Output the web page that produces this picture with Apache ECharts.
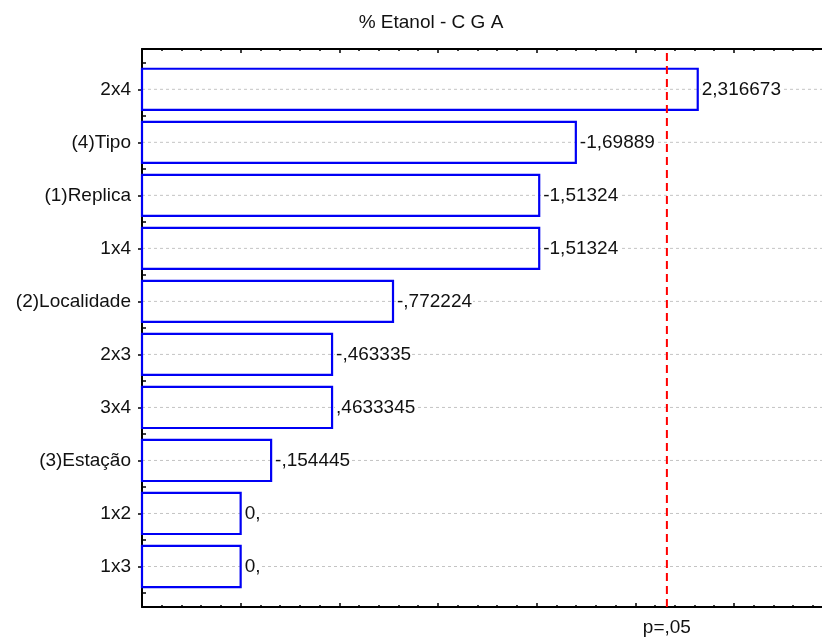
<!DOCTYPE html>
<html>
<head>
<meta charset="utf-8">
<script src="https://cdn.jsdelivr.net/npm/echarts@6/dist/echarts.min.js"></script>
<style>
  html, body { margin: 0; padding: 0; background: #fff; }
  #chart { width: 822px; height: 637px; }
</style>
</head>
<body>
<div id="chart"></div>
<script>
// Pareto chart of standardized effects
const categories = ['2x4', '(4)Tipo', '(1)Replica', '1x4', '(2)Localidade', '2x3', '3x4', '(3)Estação', '1x2', '1x3'];
const effects = [2.316673, -1.69889, -1.51324, -1.51324, -0.772224, -0.463335, 0.4633345, -0.154445, 0, 0];
const tCritical = 2.160369;
const pLevelLabel = 'p=,05';
const titleText = '% Etanol - C G A';

const X_MIN = -0.5, X_MAX = 3, X_STEP = 0.5;
const FONT = 'Liberation Sans';

// Statistica-style number text: decimal comma, no leading zero
function fmt(v) {
  if (v === 0) return '0,';
  return String(v).replace('.', ',').replace(/^(-?)0,/, '$1,');
}

const barData = categories.map((c, i) => [i, Math.abs(effects[i]), effects[i]]);

const chart = echarts.init(document.getElementById('chart'), null, { renderer: 'canvas' });

const plotLeft = 142;
const plotWidth = (X_MAX - X_MIN) * 197.3;

const xAxisCommon = {
  type: 'value', min: X_MIN, max: X_MAX, interval: X_STEP,
  axisLabel: { show: false },
  splitLine: { show: false }
};

chart.setOption({
  animation: false,
  backgroundColor: '#fff',
  title: {
    text: titleText,
    left: 426, top: 8, textAlign: 'center',
    textStyle: { fontFamily: FONT, fontSize: 19, fontWeight: 'normal', color: '#111' }
  },
  grid: [
    { left: plotLeft, width: plotWidth, top: 49, height: 558, outerBoundsMode: 'none' },
    { left: plotLeft, width: plotWidth, top: 62.8, height: 530.2, outerBoundsMode: 'none' }
  ],
  xAxis: [
    Object.assign({}, xAxisCommon, {
      gridIndex: 0, position: 'bottom',
      axisLine: { show: true, onZero: false, lineStyle: { color: '#000', width: 2 } },
      axisTick: { show: true, inside: true, length: 4, lineStyle: { color: '#000', width: 1.5 } },
      minorTick: { show: true, splitNumber: 5, length: 2, lineStyle: { color: '#000', width: 1.5 } }
    }),
    Object.assign({}, xAxisCommon, {
      gridIndex: 0, position: 'top',
      axisLine: { show: true, onZero: false, lineStyle: { color: '#000', width: 2 } },
      axisTick: { show: true, inside: true, length: 4, lineStyle: { color: '#000', width: 1.5 } },
      minorTick: { show: true, splitNumber: 5, length: 2, lineStyle: { color: '#000', width: 1.5 } }
    }),
    Object.assign({}, xAxisCommon, { gridIndex: 1, show: false, axisLine: { onZero: false } })
  ],
  yAxis: [
    {
      type: 'value', gridIndex: 0, min: 0, max: 1, position: 'left',
      axisLine: { show: true, onZero: false, lineStyle: { color: '#000', width: 2 } },
      axisTick: { show: false }, axisLabel: { show: false }, splitLine: { show: false }
    },
    {
      type: 'category', gridIndex: 1, data: categories, inverse: true, position: 'left',
      axisLine: { show: false, onZero: false },
      axisTick: { show: true, alignWithLabel: true, length: 4, lineStyle: { color: '#000', width: 1.5 } },
      axisLabel: { fontFamily: FONT, fontSize: 19, color: '#111', margin: 11 },
      splitLine: { show: false }
    },
    {
      type: 'category', gridIndex: 1, data: categories, inverse: true, position: 'left',
      axisLine: { show: false, onZero: false },
      axisTick: { show: true, inside: true, length: 4, lineStyle: { color: '#000', width: 1.5 } },
      axisLabel: { show: false },
      splitLine: { show: false }
    }
  ],
  series: [
    {
      type: 'custom',
      xAxisIndex: 2, yAxisIndex: 1,
      encode: { x: 1, y: 0 },
      data: barData,
      clip: false,
      renderItem: function (params, api) {
        const idx = api.value(0);
        const mag = api.value(1);
        const eff = api.value(2);
        const p0 = api.coord([X_MIN, idx]);
        const p1 = api.coord([mag, idx]);
        const h = api.size([0, 1])[1] * 0.775;
        const xEnd = params.coordSys.x + params.coordSys.width;
        return {
          type: 'group',
          children: [
            {
              type: 'line',
              shape: { x1: p0[0], y1: p0[1], x2: xEnd, y2: p0[1] },
              style: { stroke: '#c4c4c4', lineWidth: 1, lineDash: [3, 3] },
              z2: 1
            },
            {
              type: 'rect',
              shape: { x: p0[0], y: p0[1] - h / 2, width: p1[0] - p0[0], height: h },
              style: { fill: null, stroke: '#0000f5', lineWidth: 2.2 },
              z2: 2
            },
            {
              type: 'text',
              x: p1[0] + 3, y: p0[1],
              style: {
                text: fmt(eff),
                fontFamily: FONT, fontSize: 19, fill: '#111',
                align: 'left', verticalAlign: 'middle',
                backgroundColor: '#fff', padding: [0, 1]
              },
              z2: 3
            }
          ]
        };
      }
    },
    {
      type: 'line',
      xAxisIndex: 0, yAxisIndex: 0,
      z: 5,
      symbol: 'circle', symbolSize: 0, showSymbol: true,
      lineStyle: { color: '#ff0000', width: 2, type: [8, 5] },
      data: [
        {
          value: [tCritical, 0],
          label: {
            show: true, position: 'bottom', distance: 11,
            formatter: pLevelLabel,
            fontFamily: FONT, fontSize: 19, color: '#111'
          }
        },
        { value: [tCritical, 1] }
      ]
    }
  ]
});
</script>
</body>
</html>
